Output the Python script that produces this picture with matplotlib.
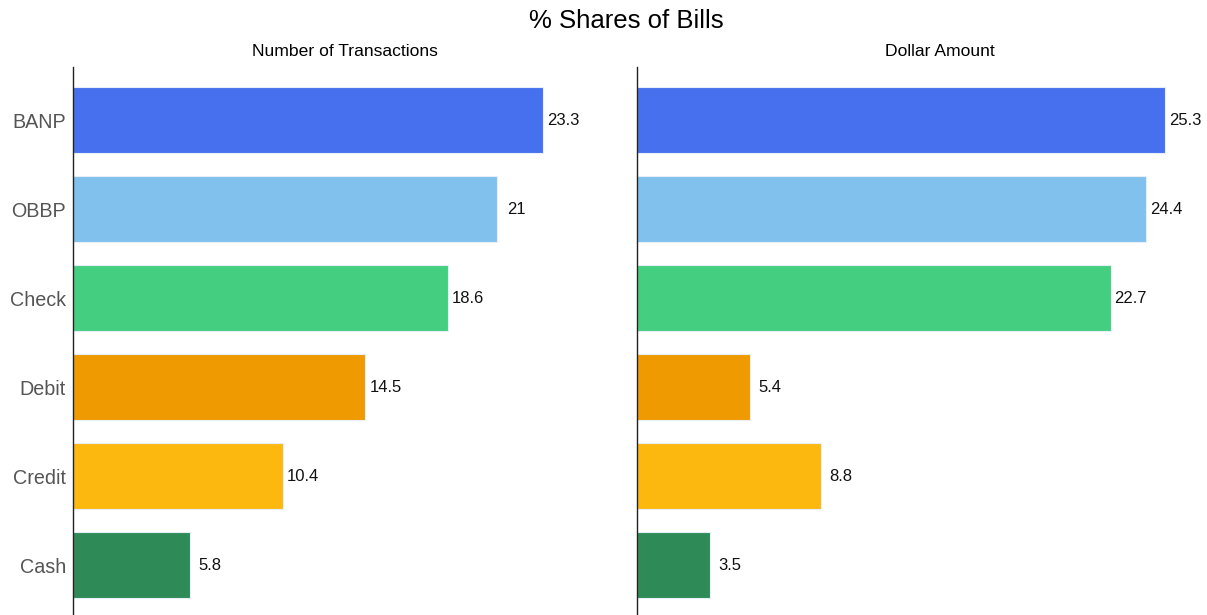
import matplotlib.pyplot as plt

plt.rcParams['font.family'] = ['Liberation Sans', 'DejaVu Sans']

categories = ['BANP', 'OBBP', 'Check', 'Debit', 'Credit', 'Cash']
transactions = [23.3, 21, 18.6, 14.5, 10.4, 5.8]
dollars = [25.3, 24.4, 22.7, 5.4, 8.8, 3.5]
colors = ['#4670EE', '#80C1EE', '#44CF80', '#EF9A00', '#FDB810', '#2E8B57']

fig = plt.figure(figsize=(12.07, 6.15), dpi=100)
W, H = 1207, 615

def panel(left_px, width_px, xmax, values, title, show_labels):
    ax = fig.add_axes([left_px / W, 0, width_px / W, (H - 67) / H])
    ypos = list(range(len(categories) - 1, -1, -1))
    ax.barh(ypos, values, height=0.74, color=colors, edgecolor='#e8eef8', linewidth=0.8)
    for y, v in zip(ypos, values):
        ax.annotate(f'{v:g}', (v, y), xytext=(20, 0), textcoords='offset pixels',
                    ha='center', va='center', fontsize=12, color='#111111')
    ax.set_xlim(0, xmax)
    ax.set_ylim(-0.56, 5.6)
    ax.set_xticks([])
    ax.set_yticks(ypos)
    if show_labels:
        ax.set_yticklabels(categories, fontsize=14.2, color='#555555')
    else:
        ax.set_yticklabels([])
    ax.tick_params(axis='y', length=0, pad=5)
    for s in ['top', 'right', 'bottom']:
        ax.spines[s].set_visible(False)
    ax.spines['left'].set_color('#222222')
    ax.spines['left'].set_linewidth(1)
    ax.set_title(title, fontsize=12.6, pad=8)
    return ax

panel(73, 544, 544 / 20.17, transactions, 'Number of Transactions', True)
panel(637, 606, 606 / 20.87, dollars, 'Dollar Amount', False)

fig.text(626 / W, 1 - 21 / H, '% Shares of Bills', ha='center', va='center', fontsize=18.5)

fig.savefig('out.png', dpi=100)
